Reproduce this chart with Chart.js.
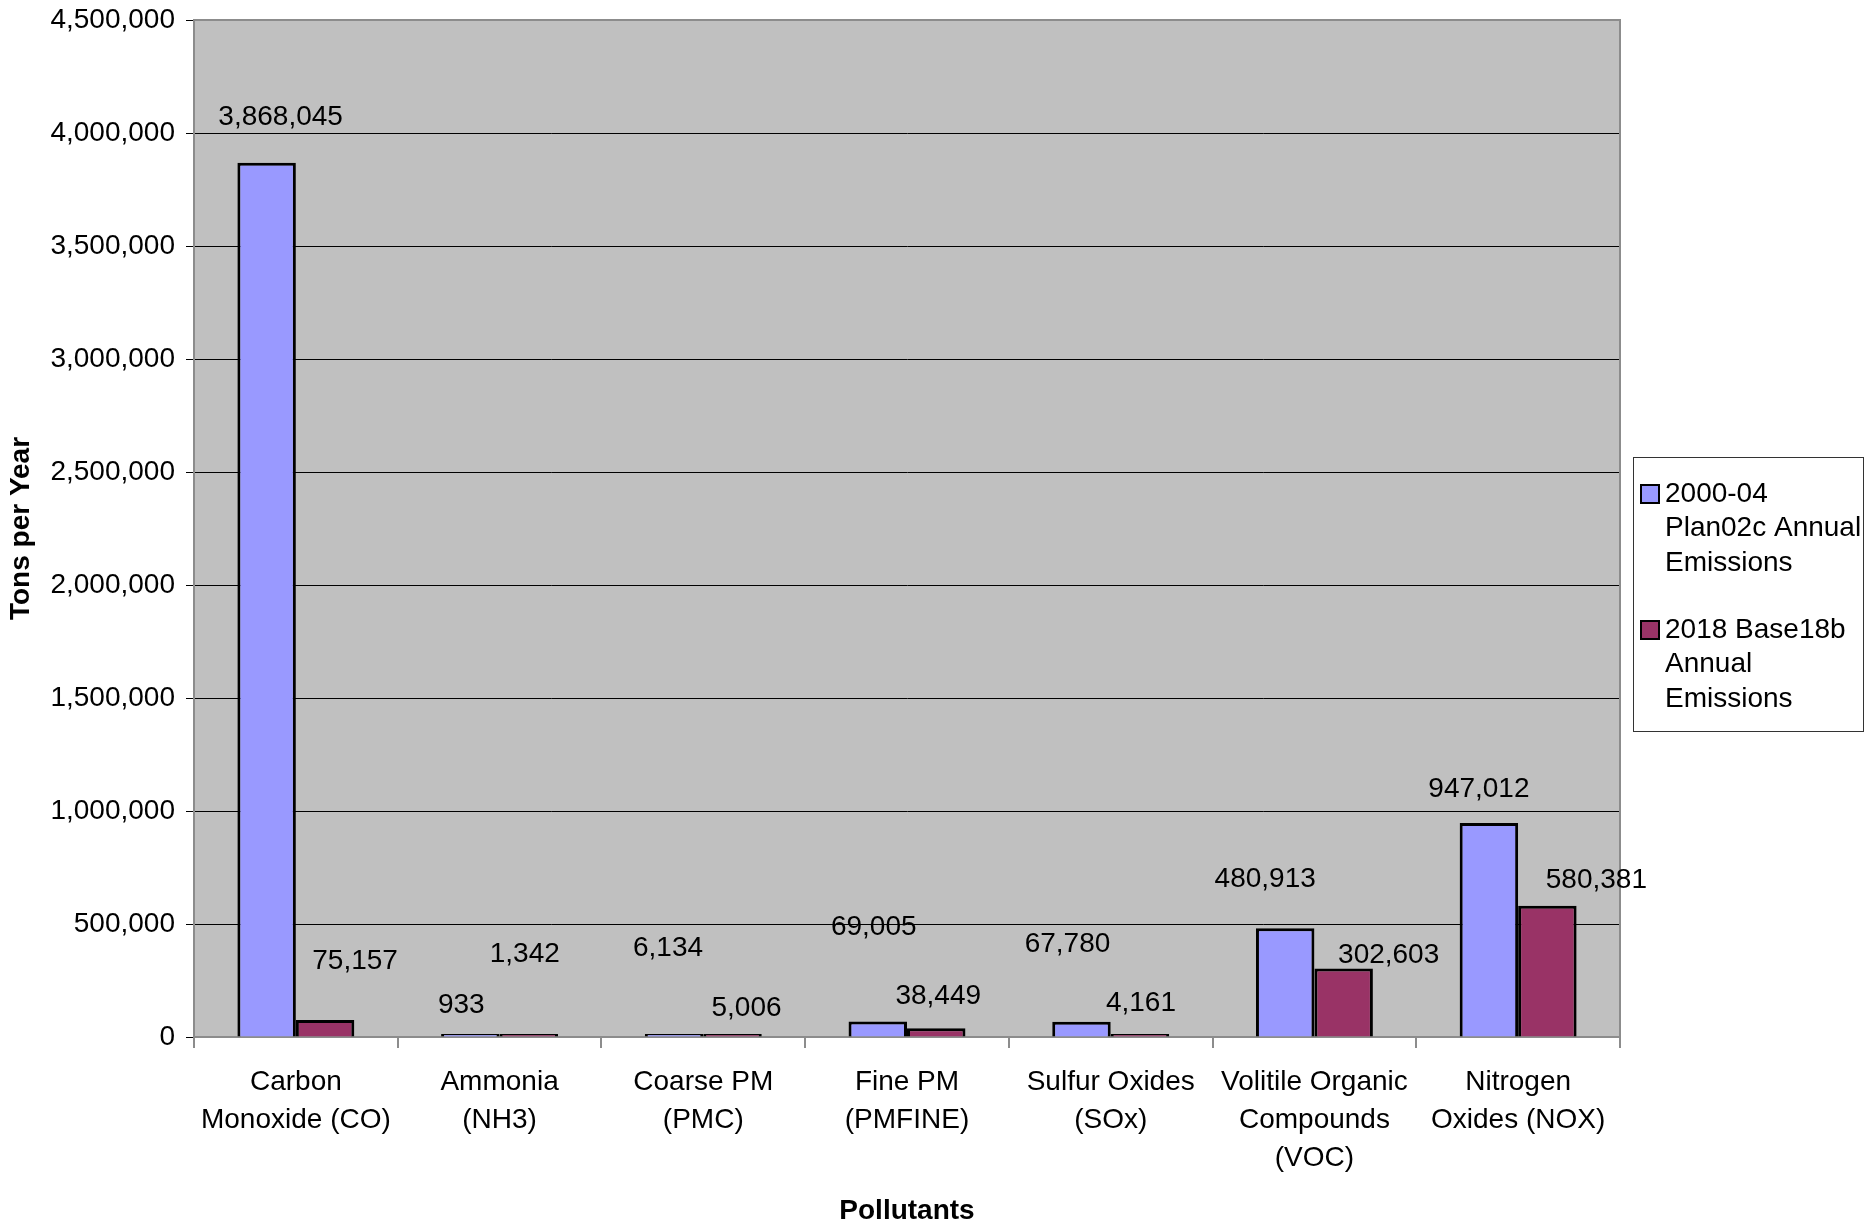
<!DOCTYPE html>
<html>
<head>
<meta charset="utf-8">
<title>Annual Emissions by Pollutant</title>
<script src="https://cdn.jsdelivr.net/npm/chart.js@4/dist/chart.umd.min.js"></script>
<style>
  html, body { margin: 0; padding: 0; background: #fff; }
  #myChart { display: block; }
</style>
</head>
<body>
<canvas id="myChart" width="1865" height="1225"></canvas>
<script>
// categories (multi-line tick labels)
var pollutants = [
  ["Carbon", "Monoxide (CO)"],
  ["Ammonia", "(NH3)"],
  ["Coarse PM", "(PMC)"],
  ["Fine PM", "(PMFINE)"],
  ["Sulfur Oxides", "(SOx)"],
  ["Volitile Organic", "Compounds", "(VOC)"],
  ["Nitrogen", "Oxides (NOX)"]
];

// tons per year
var plan2000 = [3868045, 933, 6134, 69005, 67780, 480913, 947012];
var base2018 = [75157, 1342, 5006, 38449, 4161, 302603, 580381];

// series names, split the way the legend shows them
var plan2000Name = ["2000-04", "Plan02c Annual", "Emissions"];
var base2018Name = ["2018 Base18b", "Annual", "Emissions"];

// y axis ticks
var yMin = 0;
var yMax = 4500000;
var yStep = 500000;

var FONT = "'Liberation Sans', Arial, Helvetica, sans-serif";
Chart.defaults.font.family = FONT;
Chart.defaults.color = "#000";

function fmt(v) {
  return Number(v).toLocaleString("en-US");
}

// white page + grey plot area
var backdrop = {
  id: "backdrop",
  beforeDraw: function (chart) {
    var c = chart.ctx, a = chart.chartArea;
    c.save();
    c.fillStyle = "#fff";
    c.fillRect(0, 0, chart.width, chart.height);
    c.fillStyle = "#C0C0C0";
    c.fillRect(a.left, a.top, a.right - a.left, a.bottom - a.top);
    c.restore();
  },
  beforeDatasetsDraw: function (chart) {
    var c = chart.ctx, a = chart.chartArea;
    c.save();
    c.strokeStyle = "#8c8c8c";
    c.lineWidth = 2;
    c.beginPath();
    c.moveTo(a.left, a.top);
    c.lineTo(a.right, a.top);
    c.lineTo(a.right, a.bottom);
    c.stroke();
    c.restore();
  }
};

// value labels; the nudges are pixel offsets from the top-centre of each bar
var valueLabels = {
  id: "valueLabels",
  afterDatasetsDraw: function (chart, args, opts) {
    var c = chart.ctx;
    c.save();
    c.font = "28px " + FONT;
    c.fillStyle = "#000";
    c.textAlign = "center";
    c.textBaseline = "middle";
    chart.data.datasets.forEach(function (ds, di) {
      var meta = chart.getDatasetMeta(di);
      meta.data.forEach(function (bar, i) {
        var n = opts.nudge[di][i];
        c.fillText(fmt(ds.data[i]), bar.x + n[0], bar.y + n[1]);
      });
    });
    c.restore();
  }
};

// boxed legend on the right with wrapped series names
var sideLegend = {
  id: "sideLegend",
  afterDraw: function (chart, args, opts) {
    var c = chart.ctx;
    var x = 1633.5, y = 457.5, w = 230, h = 274;
    c.save();
    c.strokeStyle = "#333";
    c.lineWidth = 1;
    c.strokeRect(x, y, w, h);
    c.font = opts.fontSize + "px " + FONT;
    c.textBaseline = "middle";
    c.textAlign = "left";
    var top = [494, 630];
    chart.data.datasets.forEach(function (ds, di) {
      var ty = top[di];
      c.fillStyle = ds.backgroundColor;
      c.fillRect(1641, ty - 9, 18, 18);
      c.strokeStyle = "#000";
      c.lineWidth = 2;
      c.strokeRect(1641, ty - 9, 18, 18);
      c.fillStyle = "#000";
      ds.legendLines.forEach(function (line, li) {
        c.fillText(line, 1665, ty + li * 34.5);
      });
    });
    c.restore();
  }
};

var ctx = document.getElementById("myChart");
var myChart = new Chart(ctx, {
  type: "bar",
  data: {
    labels: pollutants,
    datasets: [
      {
        label: plan2000Name.join(" "),
        legendLines: plan2000Name,
        data: plan2000,
        backgroundColor: "#9999FF",
        borderColor: "#000",
        borderWidth: 3,
        minBarLength: 3,
        barPercentage: 1,
        categoryPercentage: 0.574
      },
      {
        label: base2018Name.join(" "),
        legendLines: base2018Name,
        data: base2018,
        backgroundColor: "#993366",
        borderColor: "#000",
        borderWidth: 3,
        minBarLength: 3,
        barPercentage: 1,
        categoryPercentage: 0.574
      }
    ]
  },
  options: {
    responsive: false,
    animation: false,
    devicePixelRatio: 1,
    layout: { padding: { top: 20, right: 245, left: 0, bottom: 0 } },
    plugins: {
      legend: { display: false },
      tooltip: { enabled: false },
      valueLabels: {
        nudge: [
          [[14, -46], [-9, -29], [-6, -86], [-4, -94], [-14, -77], [-20, -49], [-10, -34]],
          [[30, -59], [-4, -80], [14, -26], [2, -32], [1, -31], [45, -13], [49, -26]]
        ]
      },
      sideLegend: { fontSize: 28 }
    },
    scales: {
      x: {
        ticks: {
          color: "#000",
          font: { size: 28, lineHeight: 38 / 28 },
          padding: 15,
          maxRotation: 0,
          autoSkip: false
        },
        grid: {
          offset: true,
          drawOnChartArea: false,
          tickLength: 11,
          color: "#8c8c8c",
          lineWidth: 2
        },
        border: { color: "#8c8c8c", width: 2 },
        title: {
          display: true,
          text: "Pollutants",
          color: "#000",
          font: { size: 28, weight: "bold", lineHeight: 1 },
          padding: { top: 0, bottom: 0 }
        },
        afterFit: function (s) { s.height = 188; }
      },
      y: {
        min: yMin,
        max: yMax,
        ticks: {
          stepSize: yStep,
          color: "#000",
          font: { size: 28 },
          padding: 11,
          callback: function (v) { return fmt(v); }
        },
        grid: { color: "#000", lineWidth: 1, tickLength: 8, tickColor: "#000" },
        border: { color: "#8c8c8c", width: 2 },
        title: {
          display: true,
          text: "Tons per Year",
          color: "#000",
          font: { size: 28, weight: "bold", lineHeight: 1 },
          padding: { top: 7, bottom: 0 }
        },
        afterFit: function (s) {
          s.width = 194;
          s.paddingTop = 0;
          s.paddingBottom = 0;
        }
      }
    }
  },
  plugins: [backdrop, valueLabels, sideLegend]
});
</script>
</body>
</html>
